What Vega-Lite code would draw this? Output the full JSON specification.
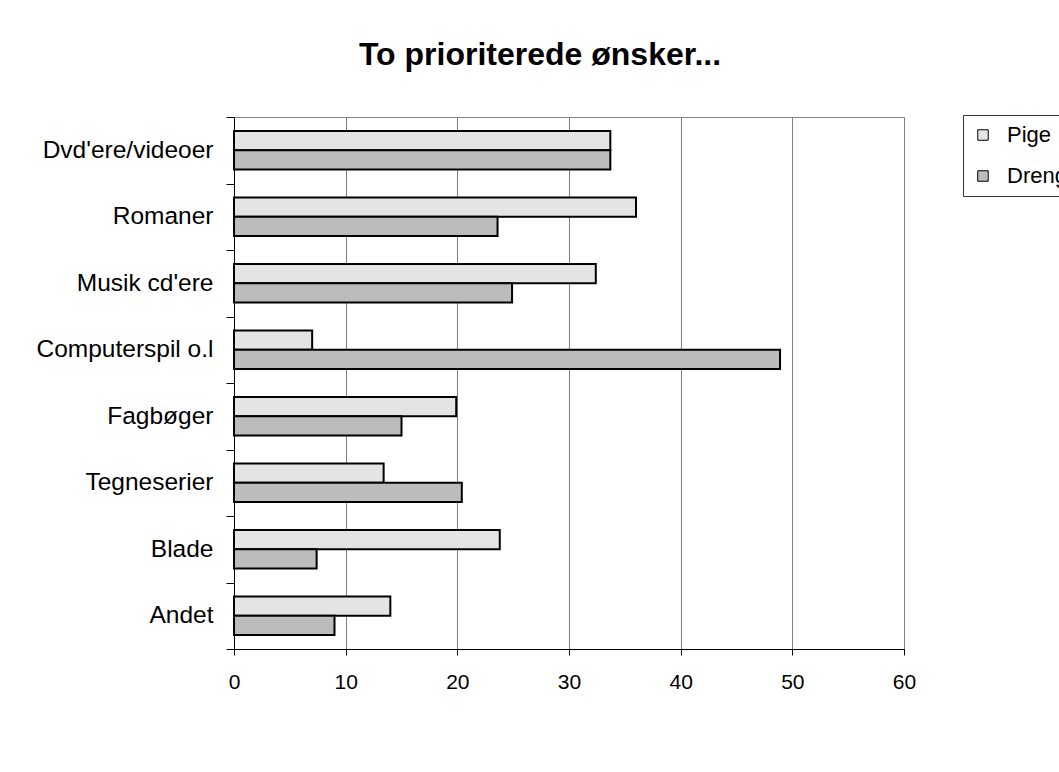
{
  "$schema": "https://vega.github.io/schema/vega-lite/v6.json",
  "width": 670,
  "height": 532,
  "autosize": {"type": "none"},
  "padding": {"left": 234, "top": 117, "right": 155, "bottom": 123},
  "background": "white",
  "title": {
    "text": "To prioriterede ønsker...",
    "font": "Liberation Sans",
    "fontSize": 32,
    "fontWeight": "bold",
    "color": "black",
    "anchor": "middle",
    "frame": "group",
    "baseline": "alphabetic",
    "offset": 7,
    "dx": -29
  },
  "data": {
    "values": [
      {"category": "Dvd'ere/videoer", "gender": "Pige", "value": 33.7},
      {"category": "Dvd'ere/videoer", "gender": "Dreng", "value": 33.7},
      {"category": "Romaner", "gender": "Pige", "value": 36.0},
      {"category": "Romaner", "gender": "Dreng", "value": 23.6},
      {"category": "Musik cd'ere", "gender": "Pige", "value": 32.4},
      {"category": "Musik cd'ere", "gender": "Dreng", "value": 24.9},
      {"category": "Computerspil o.l", "gender": "Pige", "value": 7.0},
      {"category": "Computerspil o.l", "gender": "Dreng", "value": 48.9},
      {"category": "Fagbøger", "gender": "Pige", "value": 19.9},
      {"category": "Fagbøger", "gender": "Dreng", "value": 15.0},
      {"category": "Tegneserier", "gender": "Pige", "value": 13.4},
      {"category": "Tegneserier", "gender": "Dreng", "value": 20.4},
      {"category": "Blade", "gender": "Pige", "value": 23.8},
      {"category": "Blade", "gender": "Dreng", "value": 7.4},
      {"category": "Andet", "gender": "Pige", "value": 14.0},
      {"category": "Andet", "gender": "Dreng", "value": 9.0}
    ]
  },
  "mark": {"type": "bar", "stroke": "black", "strokeWidth": 2},
  "encoding": {
    "y": {
      "field": "category",
      "type": "nominal",
      "sort": ["Dvd'ere/videoer", "Romaner", "Musik cd'ere", "Computerspil o.l", "Fagbøger", "Tegneserier", "Blade", "Andet"],
      "scale": {"paddingInner": 0, "paddingOuter": 0},
      "axis": {
        "title": null,
        "tickBand": "extent",
        "tickSize": 8,
        "tickColor": "black",
        "domainColor": "black",
        "domainWidth": 1,
        "labelFont": "Liberation Sans",
        "labelFontSize": 24.5,
        "labelColor": "black",
        "labelPadding": 13,
        "grid": false
      }
    },
    "yOffset": {
      "field": "gender",
      "sort": ["Pige", "Dreng"],
      "scale": {"paddingInner": 0, "paddingOuter": 0.718}
    },
    "x": {
      "field": "value",
      "type": "quantitative",
      "scale": {"domain": [0, 60], "nice": false},
      "axis": {
        "title": null,
        "values": [0, 10, 20, 30, 40, 50, 60],
        "grid": true,
        "gridColor": "#808080",
        "gridWidth": 1,
        "gridOpacity": 1,
        "tickSize": 6,
        "tickColor": "black",
        "domainColor": "black",
        "domainWidth": 1,
        "labelFont": "Liberation Sans",
        "labelFontSize": 21,
        "labelColor": "black",
        "labelPadding": 16,
        "labelFlush": false
      }
    },
    "color": {
      "field": "gender",
      "type": "nominal",
      "scale": {"domain": ["Pige", "Dreng"], "range": ["#e4e4e4", "#bcbcbc"]},
      "legend": {
        "title": null,
        "orient": "none",
        "legendX": 729,
        "legendY": -2,
        "symbolType": "square",
        "symbolSize": 110,
        "symbolStrokeColor": "black",
        "symbolStrokeWidth": 1,
        "symbolOpacity": 1,
        "labelFont": "Liberation Sans",
        "labelFontSize": 22,
        "labelColor": "black",
        "labelOffset": 13,
        "rowPadding": 19,
        "padding": 9,
        "strokeColor": "#333333",
        "fillColor": "white"
      }
    }
  },
  "config": {
    "view": {"stroke": "#808080", "strokeWidth": 1}
  }
}
